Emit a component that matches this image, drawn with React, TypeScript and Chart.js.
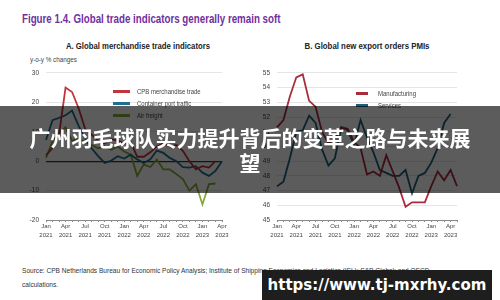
import React, { useEffect, useRef } from "react";
import { Chart, registerables } from "chart.js";
Chart.register(...registerables);

const monthsA = [
  "Jan 2021", "Feb 2021", "Mar 2021", "Apr 2021", "May 2021", "Jun 2021", "Jul 2021", "Aug 2021", "Sep 2021", "Oct 2021", "Nov 2021", "Dec 2021",
  "Jan 2022", "Feb 2022", "Mar 2022", "Apr 2022", "May 2022", "Jun 2022", "Jul 2022", "Aug 2022", "Sep 2022", "Oct 2022", "Nov 2022", "Dec 2022",
  "Jan 2023", "Feb 2023", "Mar 2023", "Apr 2023",
];
const monthsB = [...monthsA, "May 2023"];
const shownMonths = ["Jan", "Apr", "Jul", "Oct"];

const cpbTrade = [2, 4.5, 9, 25, 23.5, 18, 11, 9, 7, 6, 7.5, 7, 6, 6.5, 1.5, 1.5, 3, 5, 6, 5, 5.5, 3.5, 0, -2.8, -1.7, -2.2, 0];
const portTraffic = [7.2, 13.9, 14.7, 15.6, 17.2, 12, 7.8, 4.4, 1.7, -0.6, 0.2, 1.7, 0.9, 2.2, 0.6, -0.6, 0.6, 3.6, 2.8, 1.1, 0, -2, -2.2, -1.7, -3.9, -5, -3.3, 0];
const airFreight = [1.1, 6.7, 9.5, 11.5, 7, 7.5, 6.5, 5.5, 4.4, 5, 3.9, 5, 3.3, 2.2, -5, -1.1, -2, 0.6, -2.8, -2.8, -4.4, -6.1, -10, -7.8, -14.7, -7.8, -7.6];

const manufacturing = [51.3, 51.8, 53.4, 54.7, 54.9, 53.1, 52.7, 51.0, 50.2, 50.5, 51.3, 51.2, 50.3, 49.9, 48.1, 48.3, 48.0, 49.4, 48.3, 47.2, 45.9, 46.2, 46.2, 46.2, 47.3, 48.3, 47.7, 48.4, 47.3];
const services = [47.3, 47.6, 49.2, 51.0, 51.1, 52.1, 51.6, 49.8, 48.7, 49.2, 51.3, 51.1, 50.1, 51.8, 50.6, 49.6, 48.4, 48.2, 48.0, 48.0, 48.4, 46.8, 48.0, 48.2, 48.9, 49.9, 51.6, 52.2];

const legendA = ["CPB merchandise trade", "Container port traffic", "Air freight"];
const legendB = ["Manufacturing", "Services"];
const colorsA = ["#c3343e", "#1f6f92", "#86a83a"];
const colorsB = ["#a82c3c", "#1f5f7a"];

const SANS = "'Liberation Sans', Arial, sans-serif";

function xScale(labels: string[]) {
  return {
    type: "category" as const,
    offset: false,
    grid: { drawOnChartArea: false, drawTicks: true, tickLength: 2, color: "#8a8a8a" },
    border: { color: "#8a8a8a", width: 1 },
    ticks: {
      autoSkip: false,
      maxRotation: 0,
      minRotation: 0,
      padding: 0,
      color: "#444",
      font: { family: SANS, size: 6, lineHeight: 1.45 },
      callback: (_v: any, i: number) => {
        const l = labels[i];
        const parts = l.split(" ");
        return shownMonths.includes(parts[0]) ? parts : "";
      },
    },
    afterFit: (s: any) => {
      s.height = 27;
    },
  };
}

function LineChart(props: { labels: string[]; datasets: any[]; yMin: number; yMax: number; step: number; yWidth: number; padRight: number; zeroLine: boolean }) {
  const ref = useRef<HTMLCanvasElement | null>(null);
  useEffect(() => {
    if (!ref.current) return;
    const chart = new Chart(ref.current, {
      type: "line",
      data: { labels: props.labels, datasets: props.datasets },
      options: {
        animation: false,
        responsive: false,
        maintainAspectRatio: false,
        devicePixelRatio: 1,
        layout: { padding: { left: 0, right: props.padRight, top: 8, bottom: 0 } },
        plugins: { legend: { display: false }, tooltip: { enabled: false } },
        elements: { point: { radius: 0 }, line: { tension: 0 } },
        scales: {
          x: xScale(props.labels) as any,
          y: {
            min: props.yMin,
            max: props.yMax,
            border: { display: false },
            grid: {
              drawTicks: false,
              color: (ctx: any) => (props.zeroLine && ctx.tick && ctx.tick.value === 0 ? "#3a3a3a" : "#dedede"),
              lineWidth: (ctx: any) => (props.zeroLine && ctx.tick && ctx.tick.value === 0 ? 1.3 : 0.8),
            },
            ticks: {
              stepSize: props.step,
              padding: 7,
              color: "#444",
              font: { family: SANS, size: 6.5 },
            },
            afterFit: (s: any) => {
              s.width = props.yWidth;
            },
          } as any,
        },
      },
    });
    return () => chart.destroy();
  }, []);
  return <canvas ref={ref} width={220} height={185} style={{ width: 220, height: 185, display: "block" }} />;
}

function Legend(props: { items: string[]; colors: string[]; left: number; top: number; lineW: number; gap: number }) {
  return (
    <>
      {props.items.map((t, i) => (
        <div key={t} style={{ position: "absolute", left: props.left, top: props.top + i * 12 - 6, height: 12, display: "flex", alignItems: "center" }}>
          <div style={{ width: props.lineW, height: 3, background: props.colors[i] }} />
          <div style={{ marginLeft: props.gap, fontFamily: SANS, fontSize: 7.5, color: "#444", whiteSpace: "nowrap", transform: "scaleX(0.8)", transformOrigin: "left center" }}>{t}</div>
        </div>
      ))}
    </>
  );
}

export default function App() {
  const dsA = [
    { label: legendA[0], data: cpbTrade, borderColor: colorsA[0], borderWidth: 1.8, fill: false },
    { label: legendA[1], data: portTraffic, borderColor: colorsA[1], borderWidth: 1.8, fill: false },
    { label: legendA[2], data: airFreight, borderColor: colorsA[2], borderWidth: 1.8, fill: false },
  ];
  const dsB = [
    { label: legendB[0], data: manufacturing, borderColor: colorsB[0], borderWidth: 1.8, fill: false },
    { label: legendB[1], data: services, borderColor: colorsB[1], borderWidth: 1.8, fill: false },
  ];
  return (
    <div style={{ position: "fixed", left: 0, top: 0, width: 500, height: 300, background: "#fff", overflow: "hidden" }}>
      <div style={{ position: "absolute", left: 22, top: 12, fontFamily: SANS, fontWeight: "bold", fontSize: 12.5, color: "#7030a0", whiteSpace: "nowrap", transform: "scaleX(0.78)", transformOrigin: "left center" }}>
        Figure 1.4. Global trade indicators generally remain soft
      </div>
      <div style={{ position: "absolute", left: 38, width: 200, top: 41, textAlign: "center", fontFamily: SANS, fontWeight: "bold", fontSize: 9, color: "#222", transform: "scaleX(0.86)", transformOrigin: "center" }}>
        A. Global merchandise trade indicators
      </div>
      <div style={{ position: "absolute", left: 267, width: 200, top: 41, textAlign: "center", fontFamily: SANS, fontWeight: "bold", fontSize: 9, color: "#222", transform: "scaleX(0.87)", transformOrigin: "center" }}>
        B. Global new export orders PMIs
      </div>
      <div style={{ position: "absolute", left: 30, top: 56, fontFamily: SANS, fontSize: 7, color: "#444", whiteSpace: "nowrap", transform: "scaleX(0.9)", transformOrigin: "left center" }}>y-o-y % changes</div>

      <div style={{ position: "absolute", left: 16, top: 62 }}>
        <LineChart labels={monthsA} datasets={dsA} yMin={-20} yMax={30} step={10} yWidth={30} padRight={14} zeroLine={true} />
      </div>
      <div style={{ position: "absolute", left: 250, top: 62 }}>
        <LineChart labels={monthsB} datasets={dsB} yMin={45} yMax={55} step={1} yWidth={27} padRight={13} zeroLine={false} />
      </div>

      <Legend items={legendA} colors={colorsA} left={113} top={91} lineW={17} gap={7} />
      <Legend items={legendB} colors={colorsB} left={356} top={93} lineW={12} gap={10} />

      <div style={{ position: "absolute", left: 22, top: 264, fontFamily: SANS, fontSize: 8, lineHeight: "13.5px", color: "#333", whiteSpace: "nowrap", transform: "scaleX(0.82)", transformOrigin: "left top" }}>
        Source: CPB Netherlands Bureau for Economic Policy Analysis; Institute of Shipping Economics and Logistics (ISL); S&amp;P Global; and OECD
        <br />
        calculations.
      </div>

      <div style={{ position: "absolute", left: 0, top: 106, width: 500, height: 87, background: "rgba(0,0,0,0.64)" }} />
      <div style={{ position: "absolute", left: 0, top: 106, width: 500, height: 87, display: "flex", flexDirection: "column", justifyContent: "center", alignItems: "center", fontFamily: "'Noto Sans CJK SC', sans-serif", fontWeight: "bold", fontSize: 21, lineHeight: "25px", color: "#fff" }}>
        <div style={{ whiteSpace: "nowrap" }}>广州羽毛球队实力提升背后的变革之路与未来展</div>
        <div>望</div>
      </div>

      <div style={{ position: "absolute", left: 262, top: 270, width: 230, height: 30, background: "#1e1e1e", display: "flex", alignItems: "center", justifyContent: "center" }}>
        <span style={{ fontFamily: "'DejaVu Sans', sans-serif", fontWeight: "bold", fontSize: 15, color: "#fff", whiteSpace: "nowrap" }}>https://www.tj-mxrhy.com</span>
      </div>
    </div>
  );
}
